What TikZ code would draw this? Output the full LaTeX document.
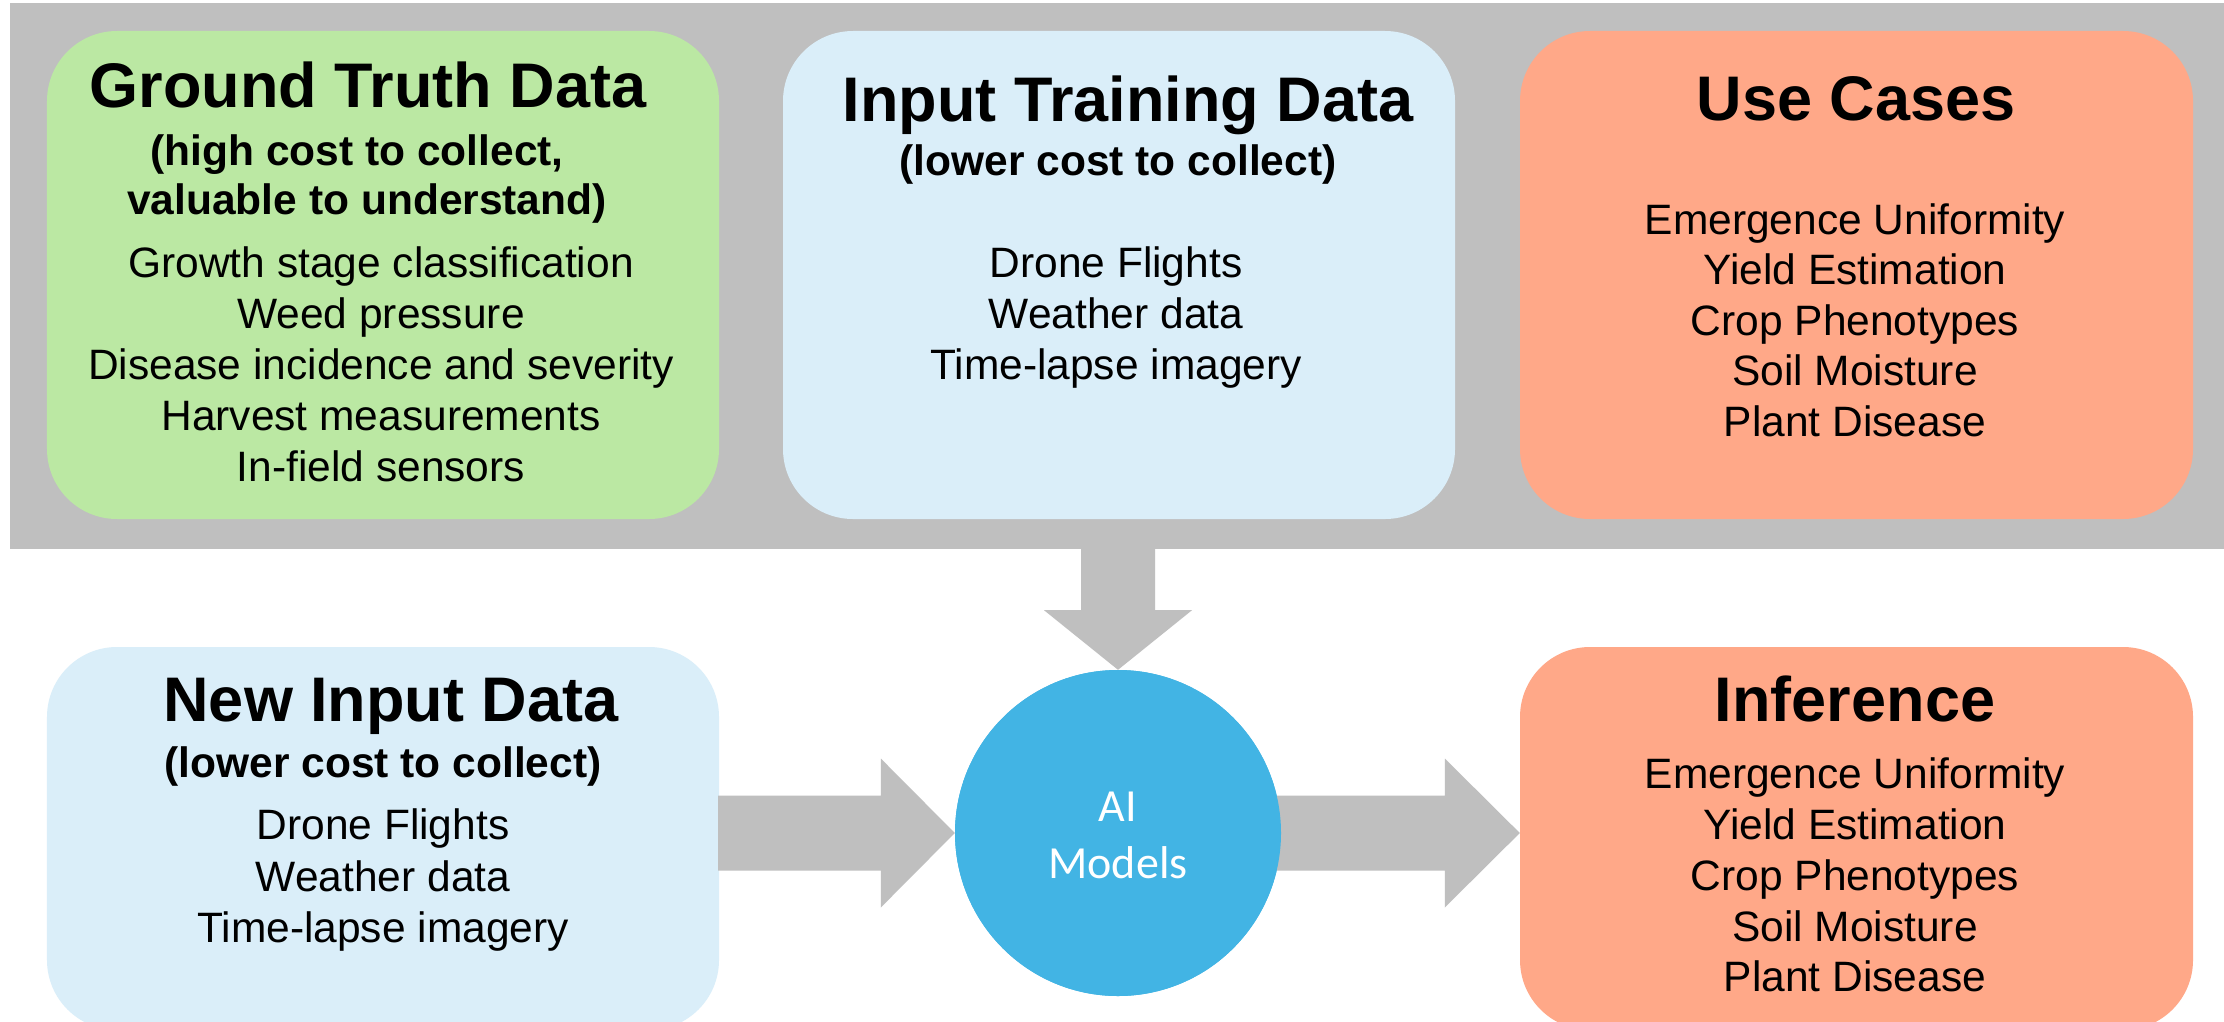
\documentclass[tikz,border=0pt]{standalone}
\usepackage{fontspec}
\setmainfont{Liberation Sans}
\newfontfamily\modelfont{Carlito}
\usetikzlibrary{calc}

\definecolor{panelgray}{RGB}{191,191,191}
\definecolor{truthgreen}{RGB}{187,232,163}
\definecolor{inputblue}{RGB}{218,238,249}
\definecolor{caseorange}{RGB}{255,168,136}
\definecolor{modelblue}{RGB}{66,180,228}

\begin{document}
\begin{tikzpicture}[x=1bp,y=-1bp,
  card/.style={rounded corners=70bp, minimum width=672bp, inner sep=0pt, draw=none},
  title/.style={font=\fontsize{63bp}{70bp}\selectfont\bfseries, anchor=base, inner sep=0pt},
  subtitle/.style={font=\fontsize{42.5bp}{50bp}\selectfont\bfseries, anchor=base, inner sep=0pt},
  item/.style={font=\fontsize{42.5bp}{50bp}\selectfont, anchor=base, inner sep=0pt},
  modeltext/.style={font=\modelfont\fontsize{46bp}{54bp}\selectfont, text=white, anchor=base, inner sep=0pt},
  blockarrow/.style={fill=panelgray, draw=none}]

\useasboundingbox (0,0) rectangle (2224,1021);
\clip (0,0) rectangle (2224,1021);
\fill[white] (0,0) rectangle (2224,1021);

% grey band behind the training stage
\node[fill=panelgray, draw=none, inner sep=0pt, minimum width=2214bp, minimum height=546bp] (panel) at (1117,276) {};

% cards
\node[card, fill=truthgreen, minimum height=488bp] (truth) at (383,275) {};
\node[card, fill=inputblue, minimum height=488bp] (train) at (1119,275) {};
\node[card, fill=caseorange, minimum width=673bp, minimum height=488bp] (cases) at (1856.5,275) {};
\node[card, fill=inputblue, minimum height=383bp] (newin) at (383,838.5) {};
\node[card, fill=caseorange, minimum width=673bp, minimum height=383bp] (infer) at (1856.5,838.5) {};

% model node (placed first so the block arrows can refer to it)
\node[circle, fill=modelblue, minimum size=326bp, inner sep=0pt] (ai) at (1118,833) {};

% block arrows
\fill[blockarrow]
  ($(ai.north |- panel.south)+(-37,-1)$) -- ($(ai.north |- panel.south)+(-37,61)$)
  -- ($(ai.north |- panel.south)+(-74,61)$) -- (ai.north)
  -- ($(ai.north |- panel.south)+(74,61)$) -- ($(ai.north |- panel.south)+(37,61)$)
  -- ($(ai.north |- panel.south)+(37,-1)$) -- cycle;
\fill[blockarrow]
  ($(newin.east |- ai.west)+(-1,-37.5)$) -- ($(ai.west)+(-74,-37.5)$)
  -- ($(ai.west)+(-74,-74.5)$) -- (ai.west)
  -- ($(ai.west)+(-74,74.5)$) -- ($(ai.west)+(-74,37.5)$)
  -- ($(newin.east |- ai.west)+(-1,37.5)$) -- cycle;
\fill[blockarrow]
  ($(ai.east)+(-20,-37.5)$) -- ($(infer.west |- ai.east)+(-75,-37.5)$)
  -- ($(infer.west |- ai.east)+(-75,-74.5)$) -- (infer.west |- ai.east)
  -- ($(infer.west |- ai.east)+(-75,74.5)$) -- ($(infer.west |- ai.east)+(-75,37.5)$)
  -- ($(ai.east)+(-20,37.5)$) -- cycle;

% redraw the circle above the arrow shafts
\fill[modelblue] (ai.center) circle (163);
\node[modeltext] (ai-l1) at (1118,821) {AI};
\node[modeltext] (ai-l2) at (1118,878) {Models};

% ground truth card
\node[title] (truth-t) at (368,107) {Ground Truth Data};
\node[subtitle] (truth-s1) at (357,165) {(high cost to collect,};
\node[subtitle] (truth-s2) at (367,214) {valuable to understand)};
\foreach \txt [count=\i] in {Growth stage classification, Weed pressure, Disease incidence and severity, Harvest measurements, In-field sensors}
  \node[item] (truth-\i) at (381,226+51*\i) {\txt};

% training input card
\node[title] (train-t) at (1128,121) {Input Training Data};
\node[subtitle] (train-s) at (1118,175) {(lower cost to collect)};
\foreach \txt [count=\i] in {Drone Flights, Weather data, Time-lapse imagery}
  \node[item] (train-\i) at (1116,226+51*\i) {\txt};

% use cases card
\node[title] (cases-t) at (1856,120) {Use Cases};
\foreach \txt [count=\i] in {Emergence Uniformity, Yield Estimation, Crop Phenotypes, Soil Moisture, Plant Disease}
  \node[item] (cases-\i) at (1855,183.5+50.5*\i) {\txt};

% new input card
\node[title] (newin-t) at (391,721) {New Input Data};
\node[subtitle] (newin-s) at (383,777) {(lower cost to collect)};
\foreach \txt [count=\i] in {Drone Flights, Weather data, Time-lapse imagery}
  \node[item] (newin-\i) at (383,788+51.5*\i) {\txt};

% inference card
\node[title] (infer-t) at (1855,721) {Inference};
\foreach \txt [count=\i] in {Emergence Uniformity, Yield Estimation, Crop Phenotypes, Soil Moisture, Plant Disease}
  \node[item] (infer-\i) at (1855,738+50.75*\i) {\txt};
\end{tikzpicture}
\end{document}
